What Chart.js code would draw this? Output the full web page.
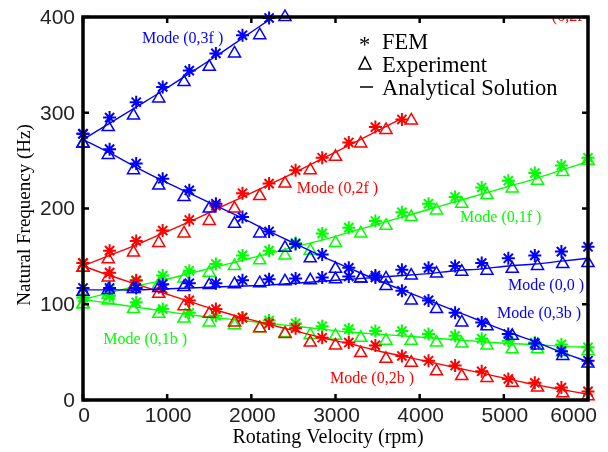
<!DOCTYPE html>
<html>
<head>
<meta charset="utf-8">
<script src="https://cdn.jsdelivr.net/npm/chart.js@4.4.1/dist/chart.umd.min.js"></script>
<style>
  body { margin: 0; background: #fff; }
  #wrap { width: 608px; height: 452px; }
</style>
</head>
<body>
<div id="wrap"><canvas id="freqChart" width="608" height="452"></canvas></div>
<script>
// x positions (rpm) of the FEM / analytical points and of the measurements
const rpmFem = [0, 316, 632, 947, 1263, 1579, 1895, 2211, 2526, 2842, 3158, 3474, 3789, 4105, 4421, 4737, 5053, 5368, 5684, 6000];
const rpmExp = [0, 300, 600, 900, 1200, 1500, 1800, 2100, 2400, 2700, 3000, 3300, 3600, 3900, 4200, 4500, 4800, 5100, 5400, 5700, 6000];

// Mode (0,3f)
const fem03f = [278, 295, 311, 327, 344, 362, 381, 399, null, null, null, null, null, null, null, null, null, null, null, null];
const exp03f = [268, 285, 297, 315, 332, 348, 362, 381, 400, null, null, null, null, null, null, null, null, null, null, null, null];
const ana03f = [272, 289, 306, 323, 341, 359, 378, 397, 416, null, null, null, null, null, null, null, null, null, null, null];
// Mode (0,3b)
const fem03b = [278, 262, 247, 231, 219, 205, 191, 176, 163, 152, 138, 128, 114, 104, 91, 81, 69, 59, 51, 41];
const exp03b = [268, 256, 240, 224, 212, 200, 184, 174, 159, 148, 137, 127, 119, 104, 95, 81, 77, 67, 57, 46, 38];
const ana03b = [272, 258, 243, 229, 216, 203, 190, 176, 163, 150, 138, 126, 115, 104, 93, 82, 71, 61, 50, 40];
// Mode (0,0)
const fem00 = [117, 117, 117, 121, 122, 122, 125, 126, 127, 128, 129, 130, 136, 138, 140, 143, 148, 151, 155, 160];
const exp00 = [113, 115, 116, 117, 118, 120, 121, 122, 124, 125, 126, 127, 127, 130, 132, 134, 135, 137, 140, 142, 143];
const ana00 = [115, 115, 115, 116, 117, 118, 119, 120, 122, 124, 126, 128, 130, 132, 135, 137, 140, 142, 145, 148];
// Mode (0,2f)
const fem02f = [143, 156, 166, 177, 188, 203, 216, 226, 240, 253, 269, 285, 293, null, null, null, null, null, null, null];
const exp02f = [138, 147, 154, 164, 174, 187, 200, 213, 226, 240, 254, 268, 282, 292, null, null, null, null, null, null, null];
const ana02f = [140, 151, 162, 174, 186, 199, 212, 225, 238, 252, 266, 280, 294, null, null, null, null, null, null, null];
// Mode (0,2b)
const fem02b = [143, 133, 125, 116, 104, 95, 86, 80, 75, 65, 60, 57, 46, 41, 36, 30, 22, 18, 13, 9];
const exp02b = [138, 128, 118, 111, 98, 90, 81, 75, 69, 60, 57, 49, 43, 39, 30, 25, 23, 18, 13, 7, 4];
const ana02b = [140, 130, 121, 112, 103, 94, 86, 79, 72, 65, 59, 52, 46, 40, 34, 28, 22, 16, 11, 6];
// Mode (0,1f)
const fem01f = [107, 116, 124, 130, 135, 142, 151, 156, 164, 174, 180, 187, 196, 205, 212, 222, 229, 237, 245, 253];
const exp01f = [100, 110, 116, 121, 127, 133, 140, 146, 151, 156, 164, 174, 182, 191, 198, 205, 214, 221, 229, 238, 250];
const ana01f = [105, 112, 119, 125, 132, 139, 146, 153, 160, 167, 175, 183, 191, 199, 207, 215, 223, 231, 240, 249];
// Mode (0,1b)
const fem01b = [107, 109, 102, 95, 91, 88, 86, 83, 80, 77, 74, 72, 72, 69, 67, 64, 62, 60, 58, 55];
const exp01b = [100, 104, 95, 90, 85, 81, 78, 75, 70, 68, 67, 65, 62, 62, 60, 59, 57, 53, 53, 50, 51];
const ana01b = [105, 101, 97, 93, 89, 86, 83, 80, 77, 74, 71, 69, 67, 65, 63, 61, 59, 58, 56, 55];

const xTicks = [0, 1000, 2000, 3000, 4000, 5000, 6000];
const yTicks = [0, 100, 200, 300, 400];

const BLUE = '#0000ff', RED = '#ff0000', GREEN = '#00ff00';

const modes = [
    { color: BLUE, fem: fem03f, exp: exp03f, ana: ana03f },
    { color: BLUE, fem: fem03b, exp: exp03b, ana: ana03b },
    { color: BLUE, fem: fem00, exp: exp00, ana: ana00 },
    { color: RED, fem: fem02f, exp: exp02f, ana: ana02f },
    { color: RED, fem: fem02b, exp: exp02b, ana: ana02b },
    { color: GREEN, fem: fem01f, exp: exp01f, ana: ana01f },
    { color: GREEN, fem: fem01b, exp: exp01b, ana: ana01b }
];

// text labels placed in data units (rpm, Hz) = left edge / baseline
const modeLabels = [
    { text: 'Mode (0,3f )', color: BLUE, x: 700, y: 373 },
    { text: 'Mode (0,2f )', color: RED, x: 2540, y: 216 },
    { text: 'Mode (0,1f )', color: GREEN, x: 4480, y: 186 },
    { text: 'Mode (0,0 )', color: BLUE, x: 5050, y: 115 },
    { text: 'Mode (0,3b )', color: BLUE, x: 4920, y: 86 },
    { text: 'Mode (0,1b )', color: GREEN, x: 240, y: 58 },
    { text: 'Mode (0,2b )', color: RED, x: 2935, y: 18 },
    { text: '(0,2f )', color: RED, x: 5570, y: 396 }
];

function pairs(xs, ys) {
    return xs.map((x, i) => ({ x: x, y: ys[i] }));
}

const datasets = [];
modes.forEach(m => {
    // analytical solution line
    datasets.push({
        data: pairs(rpmFem, m.ana),
        showLine: true,
        borderColor: m.color,
        borderWidth: 1.4,
        pointRadius: 0,
        tension: 0.3,
        spanGaps: false
    });
    // FEM stars
    datasets.push({
        data: pairs(rpmFem, m.fem),
        showLine: false,
        pointStyle: 'star',
        pointRadius: 6.5,
        pointBorderWidth: 2,
        borderColor: m.color,
        backgroundColor: m.color,
        clip: false
    });
    // experiment triangles
    datasets.push({
        data: pairs(rpmExp, m.exp),
        showLine: false,
        pointStyle: 'triangle',
        pointRadius: 7,
        pointBorderWidth: 1.5,
        borderColor: m.color,
        backgroundColor: 'rgba(0,0,0,0)',
        clip: false
    });
});

const SERIF = '"Liberation Serif", "Times New Roman", serif';
const SANS = '"Liberation Sans", Arial, sans-serif';

const framePlugin = {
    id: 'frame',
    afterDatasetsDraw(chart) {
        const ctx = chart.ctx;
        const a = chart.chartArea;
        const xs = chart.scales.x, ys = chart.scales.y;

        // mode labels
        ctx.save();
        ctx.beginPath();
        ctx.rect(a.left, a.top, a.right - a.left, a.bottom - a.top);
        ctx.clip();
        ctx.font = '16px ' + SERIF;
        ctx.textAlign = 'left';
        ctx.textBaseline = 'alphabetic';
        modeLabels.forEach(l => {
            ctx.fillStyle = l.color;
            ctx.fillText(l.text, xs.getPixelForValue(l.x), ys.getPixelForValue(l.y));
        });
        ctx.restore();

        ctx.save();
        // frame
        ctx.strokeStyle = '#000';
        ctx.lineWidth = 3.5;
        ctx.strokeRect(a.left, a.top, a.right - a.left, a.bottom - a.top);

        // inward ticks
        ctx.lineWidth = 2.5;
        ctx.beginPath();
        xTicks.forEach(v => {
            const px = xs.getPixelForValue(v);
            ctx.moveTo(px, a.bottom); ctx.lineTo(px, a.bottom - 6);
            ctx.moveTo(px, a.top); ctx.lineTo(px, a.top + 6);
        });
        yTicks.forEach(v => {
            const py = ys.getPixelForValue(v);
            ctx.moveTo(a.left, py); ctx.lineTo(a.left + 6, py);
            ctx.moveTo(a.right, py); ctx.lineTo(a.right - 6, py);
        });
        ctx.stroke();

        // tick labels
        ctx.fillStyle = '#222';
        ctx.font = '21px ' + SANS;
        ctx.textBaseline = 'alphabetic';
        xTicks.forEach((v, i) => {
            const px = xs.getPixelForValue(v);
            if (i === xTicks.length - 1) {
                ctx.textAlign = 'right';
                ctx.fillText(String(v), 597, 422);
            } else {
                ctx.textAlign = 'center';
                ctx.fillText(String(v), px + 1, 422);
            }
        });
        ctx.textAlign = 'right';
        ctx.textBaseline = 'middle';
        yTicks.forEach(v => {
            ctx.fillText(String(v), 75, ys.getPixelForValue(v) + 1);
        });

        // axis titles
        ctx.fillStyle = '#000';
        ctx.font = '20px ' + SERIF;
        ctx.textAlign = 'center';
        ctx.textBaseline = 'alphabetic';
        ctx.fillText('Rotating Velocity (rpm)', 328, 443);
        ctx.save();
        ctx.translate(30, 215);
        ctx.rotate(-Math.PI / 2);
        ctx.font = '19px ' + SERIF;
        ctx.fillText('Natural Frequency (Hz)', 0, 0);
        ctx.restore();

        // legend
        ctx.font = '22.5px ' + SERIF;
        ctx.textAlign = 'left';
        ctx.fillText('*', 359, 52);
        ctx.fillText('FEM', 382, 49);
        ctx.fillText('Experiment', 382, 72);
        ctx.fillText('Analytical Solution', 382, 95);
        ctx.lineWidth = 1.5;
        ctx.beginPath();
        ctx.moveTo(365, 57);
        ctx.lineTo(371, 69);
        ctx.lineTo(359, 69);
        ctx.closePath();
        ctx.stroke();
        ctx.beginPath();
        ctx.moveTo(360, 87);
        ctx.lineTo(373, 87);
        ctx.stroke();
        ctx.restore();
    }
};

new Chart(document.getElementById('freqChart'), {
    type: 'scatter',
    data: { datasets: datasets },
    options: {
        responsive: false,
        animation: false,
        layout: { padding: { left: 83, top: 17, right: 20, bottom: 52 } },
        scales: {
            x: { type: 'linear', min: 0, max: 6000, display: false },
            y: { type: 'linear', min: 0, max: 400, display: false }
        },
        plugins: {
            legend: { display: false },
            tooltip: { enabled: false }
        }
    },
    plugins: [framePlugin]
});
</script>
</body>
</html>
